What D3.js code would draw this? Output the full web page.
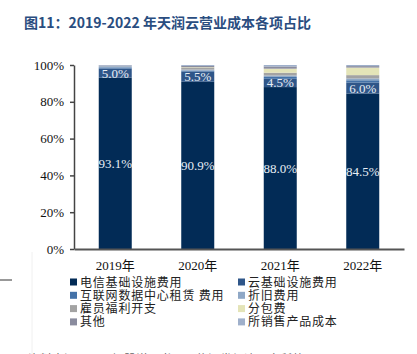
<!DOCTYPE html>
<html>
<head>
<meta charset="utf-8">
<script src="https://cdn.jsdelivr.net/npm/d3@7"></script>
<style>
  body { margin: 0; background: #fff; }
  svg { display: block; }
</style>
</head>
<body>
<div id="chart"></div>
<script>
// số liệu
const years = ["2019年", "2020年", "2021年", "2022年"];
const seriesNames = ["电信基础设施费用", "云基础设施费用", "互联网数据中心租赁 费用", "折旧费用",
                     "雇员福利开支", "分包费", "其他", "所销售产品成本"];
const telecom   = [93.1, 90.9, 88.0, 84.5];
const cloud     = [5.0, 5.5, 4.5, 6.0];
const idc       = [0.6, 0.5, 1.0, 1.2];
const deprec    = [0.6, 0.6, 0.8, 1.0];
const staff     = [0.1, 1.2, 1.5, 1.8];
const subcon    = [0.0, 0.2, 2.2, 4.1];
const other     = [0.3, 0.6, 1.2, 0.8];
const products  = [0.3, 0.5, 0.8, 0.6];
const yTicks = [0, 20, 40, 60, 80, 100];
const colors = ["#022b56", "#2f5689", "#4472a8", "#8fa8c6", "#a3a3a3", "#e4e4b8", "#8a8c9e", "#9fb0cb"];

const allSeries = [telecom, cloud, idc, deprec, staff, subcon, other, products];
const rows = years.map((y, i) => {
    let r = { year: y };
    seriesNames.forEach((n, k) => r[n] = allSeries[k][i]);
    return r;
});

const W = 417, H = 354;
const svg = d3.select("#chart").append("svg").attr("width", W).attr("height", H);

// tiêu đề
svg.append("text")
    .attr("x", 24).attr("y", 28)
    .style("font-family", "'Noto Sans CJK SC', sans-serif")
    .style("font-size", "14px")
    .style("font-weight", "bold")
    .style("fill", "#2a4d7f")
    .text("图11：2019-2022 年天润云营业成本各项占比");

let x = d3.scaleBand().domain(years).range([74, 404]).paddingInner(0.6).paddingOuter(0.3);
let y = d3.scaleLinear().domain([0, 100]).range([249, 65]);

const stacked = d3.stack().keys(seriesNames)(rows);

svg.append("g").selectAll("g")
    .data(stacked).enter().append("g")
    .attr("fill", (d, i) => colors[i])
    .selectAll("rect")
    .data(d => d).enter().append("rect")
    .attr("x", d => x(d.data.year))
    .attr("y", d => y(d[1]))
    .attr("width", x.bandwidth())
    .attr("height", d => y(d[0]) - y(d[1]));

// nhãn giá trị
const labelled = [0, 1];
labelled.forEach(k => {
    svg.append("g").selectAll("text")
        .data(stacked[k]).enter().append("text")
        .attr("x", d => x(d.data.year) + x.bandwidth() / 2)
        .attr("y", d => y((d[0] + d[1]) / 2) + 4.5)
        .attr("text-anchor", "middle")
        .style("font-family", "'Liberation Serif', serif")
        .style("font-size", "13px")
        .style("fill", "#e8eef5")
        .text(d => (d[1] - d[0]).toFixed(1) + "%");
});

// trục Y
const yAxis = svg.append("g")
    .attr("transform", "translate(74,0)")
    .call(d3.axisLeft(y).tickValues(yTicks).tickSize(4).tickSizeOuter(0).tickFormat(d => d + "%"));
yAxis.select(".domain").attr("stroke", "#444").attr("stroke-width", 1.5);
yAxis.selectAll("line").attr("stroke", "#444").attr("stroke-width", 1.5);
yAxis.selectAll("text")
    .attr("x", -10)
    .style("font-family", "'Liberation Serif', serif")
    .style("font-size", "13px")
    .style("fill", "#111");

// trục X
const xAxis = svg.append("g")
    .attr("transform", "translate(0,249)")
    .call(d3.axisBottom(x).tickSize(0).tickSizeOuter(0));
xAxis.select(".domain").attr("stroke", "#555").attr("stroke-width", 2);
xAxis.selectAll("text")
    .attr("y", 12)
    .style("font-family", "'Liberation Serif', 'Noto Sans CJK SC', serif")
    .style("font-size", "13px")
    .style("fill", "#111");

// chú thích
const legend = svg.append("g");
seriesNames.forEach((n, i) => {
    let col = i % 2, row = Math.floor(i / 2);
    let lx = col === 0 ? 70 : 238, ly = 282 + row * 13.3;
    legend.append("rect")
        .attr("x", lx).attr("y", ly - 3.5)
        .attr("width", 7).attr("height", 7)
        .attr("fill", colors[i]);
    legend.append("text")
        .attr("x", lx + 10).attr("y", ly + 4.5)
        .style("font-family", "'Noto Sans CJK SC', sans-serif")
        .style("font-size", "12px")
        .style("letter-spacing", "0.8px")
        .style("fill", "#222")
        .text(n);
});

// đường phụ bên trái
svg.append("line").attr("x1", 0).attr("x2", 12).attr("y1", 280).attr("y2", 280)
    .attr("stroke", "#333").attr("stroke-width", 1);
svg.append("line").attr("x1", 32).attr("x2", 32).attr("y1", 252).attr("y2", H)
    .attr("stroke", "#f0f0f0").attr("stroke-width", 1);

// nguồn (bị cắt ở đáy)
svg.append("text")
    .attr("x", 28).attr("y", 364)
    .style("font-family", "'Noto Sans CJK SC', sans-serif")
    .style("font-size", "12px")
    .style("fill", "#666")
    .text("资料来源：公司招股说明书，国信证券经济研究所整理");
</script>
</body>
</html>
